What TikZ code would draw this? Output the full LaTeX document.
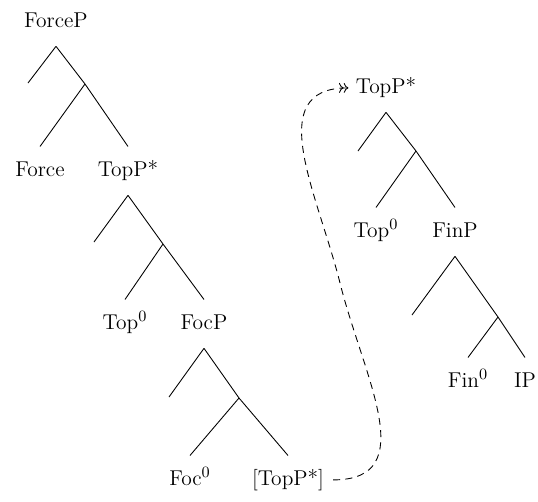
\documentclass[tikz,border=0pt]{standalone}
\usepackage{tikz}
\usetikzlibrary{arrows.meta, positioning, calc}

\begin{document}
\begin{tikzpicture}[x=0.02cm, y=-0.02cm,
  lab/.style={font=\fontsize{12.2}{14}\selectfont, text height=8.4pt, text depth=2.6pt,
              inner xsep=1pt, inner ysep=8.2pt, anchor=base},
  br/.style={line width=0.5pt},
  mv/.style={->>, line width=0.5pt, dash pattern=on 4pt off 3pt,
             shorten <=4pt, shorten >=3pt}
]
  \useasboundingbox (0,0) rectangle (538,501);

  % left column
  \node[lab] (forceP) at (56,27) {ForceP};
  \node[lab] (force) at (40,176) {Force};
  \node[lab] (topA) at (128,176) {TopP*};
  \coordinate (s1) at (28,83);
  \coordinate (i1) at (85,84);
  \draw[br] (forceP.south) -- (s1);
  \draw[br] (forceP.south) -- (i1) -- (topA.north);
  \draw[br] (i1) -- (force.north);

  \node[lab] (top0A) at (125,329) {Top$^0$};
  \node[lab] (focP) at (204,329) {FocP};
  \coordinate (s2) at (94,242);
  \coordinate (i2) at (163,244);
  \draw[br] (topA.south) -- (s2);
  \draw[br] (topA.south) -- (i2) -- (focP.north);
  \draw[br] (i2) -- (top0A.north);

  \node[lab] (foc0) at (190,485) {Foc$^0$};
  \node[lab] (trace) at (288,485) {[TopP*]};
  \coordinate (s3) at (169,397);
  \coordinate (i3) at (239,398);
  \draw[br] (focP.south) -- (s3);
  \draw[br] (focP.south) -- (i3) -- (trace.north);
  \draw[br] (i3) -- (foc0.north);

  % right column
  \node[lab] (topB) at (386,93) {TopP*};
  \node[lab] (top0B) at (376,237) {Top$^0$};
  \node[lab] (finP) at (455,237) {FinP};
  \coordinate (s4) at (358,151);
  \coordinate (i4) at (416,151);
  \draw[br] (topB.south) -- (s4);
  \draw[br] (topB.south) -- (i4) -- (finP.north);
  \draw[br] (i4) -- (top0B.north);

  \node[lab] (fin0) at (468,387) {Fin$^0$};
  \node[lab] (ip) at (525,387) {IP};
  \coordinate (s5) at (412,315);
  \coordinate (i5) at (498,317);
  \draw[br] (finP.south) -- (s5);
  \draw[br] (finP.south) -- (i5) -- (ip.north);
  \draw[br] (i5) -- (fin0.north);

  % movement
  \coordinate (bend) at (340,283);
  \draw[mv] (trace.east) to[out=0, in=-76, looseness=1.25] (bend)
            to[out=104, in=180, looseness=1.2] (topB.west);
\end{tikzpicture}
\end{document}
